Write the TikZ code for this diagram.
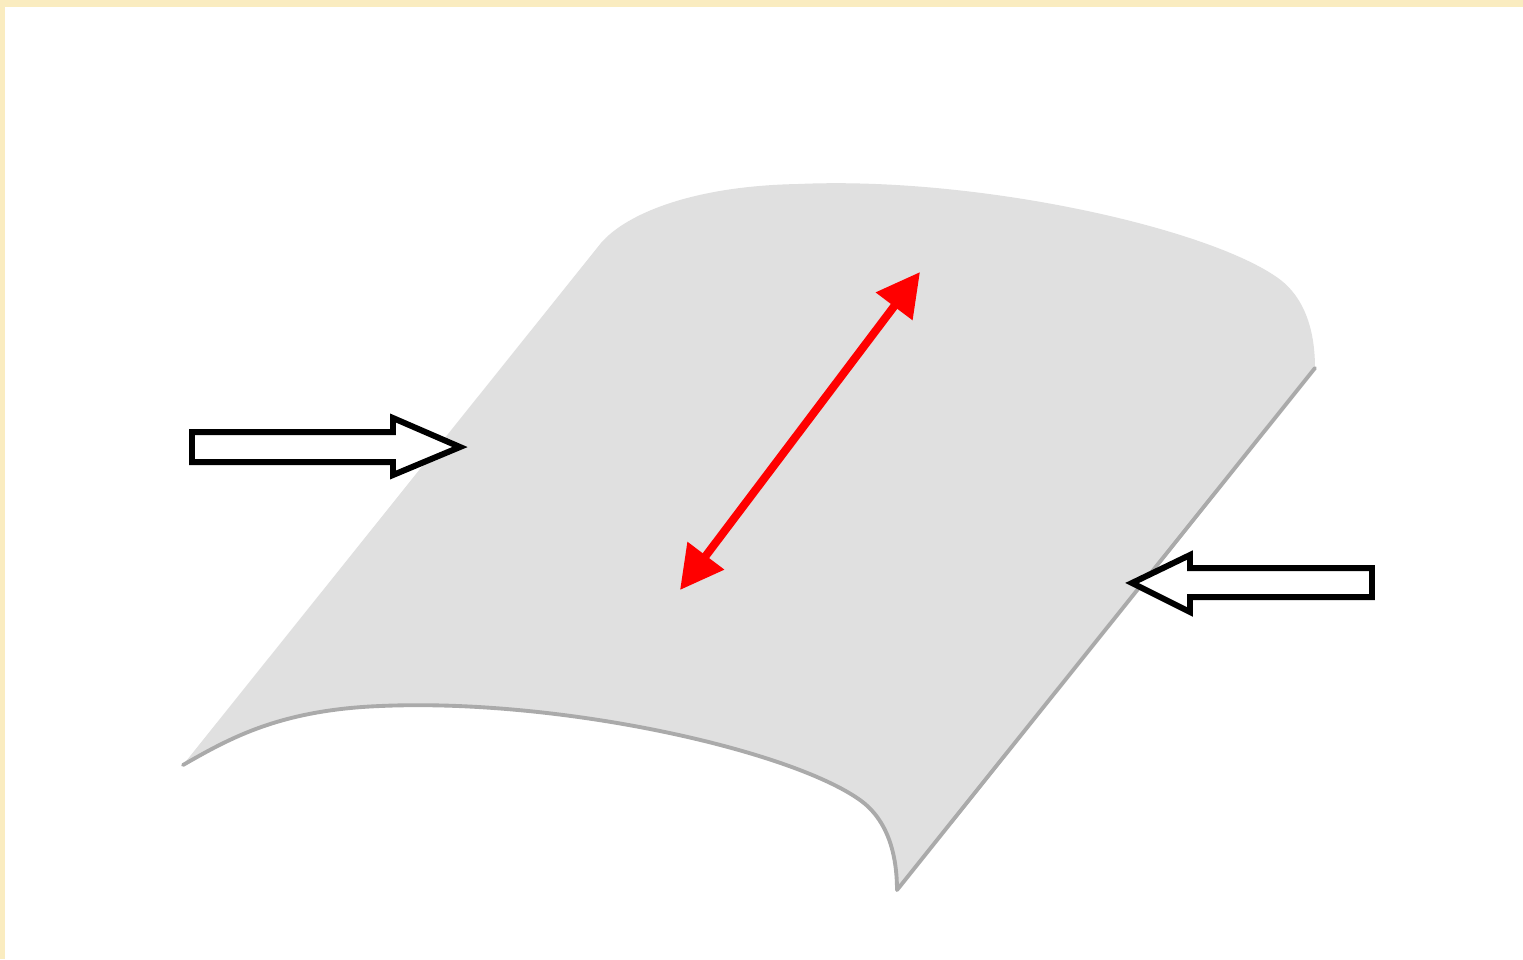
\documentclass[tikz,border=0pt]{standalone}
\usepackage[svgnames]{xcolor}
\usepackage{tikz}
\usetikzlibrary{arrows.meta}
\definecolor{sheetgray}{RGB}{224,224,224}
\definecolor{edgegray}{RGB}{170,170,170}
\definecolor{framecream}{RGB}{250,236,192}
\tikzset{
  blockarrow/.style={line width=1.7pt,draw=black,fill=white,line join=miter},
  loadarrow/.style={line width=2.3pt,color=red,
    {Triangle[length=0.43cm,width=0.44cm]}-{Triangle[length=0.43cm,width=0.44cm]}},
}
\begin{document}
\begin{tikzpicture}[line cap=round,line join=round,x=0.01cm,y=-0.01cm]
\useasboundingbox (0,0) rectangle (1523,959);
\fill[white] (0,0) rectangle (1523,959);
% frame
\fill[framecream] (0,0) rectangle (1523,7);
\fill[framecream] (0,0) rectangle (5,959);
% curved sheet: bottom arc, right side, top arc
\fill[sheetgray] (183,765) .. controls (230,738) and (280,710) .. (380,706)
  .. controls (560,698) and (790,750) .. (860,800)
  .. controls (888,820) and (897,855) .. (897,890)
  -- (1315,368)
  .. controls (1315,333) and (1306,298) .. (1278,278)
  .. controls (1208,228) and (978,176) .. (798,184)
  .. controls (690,186) and (625,215) .. (601,243)
  -- cycle;
\draw[edgegray,line width=1.1pt] (183,765) .. controls (230,738) and (280,710) .. (380,706)
  .. controls (560,698) and (790,750) .. (860,800)
  .. controls (888,820) and (897,855) .. (897,890)
  -- (1315,368);
% side loads
\draw[blockarrow] (192,432) -- (393,432) -- (393,418) -- (460,447) -- (393,475) -- (393,462) -- (192,462) -- cycle;
\draw[blockarrow] (1372,568) -- (1190,568) -- (1190,555) -- (1132,583) -- (1190,612) -- (1190,597) -- (1372,597) -- cycle;
% direction along the sheet
\coordinate (lo) at (680,590);
\coordinate (hi) at (920,272);
\draw[loadarrow] (lo) -- (hi);
\end{tikzpicture}
\end{document}
